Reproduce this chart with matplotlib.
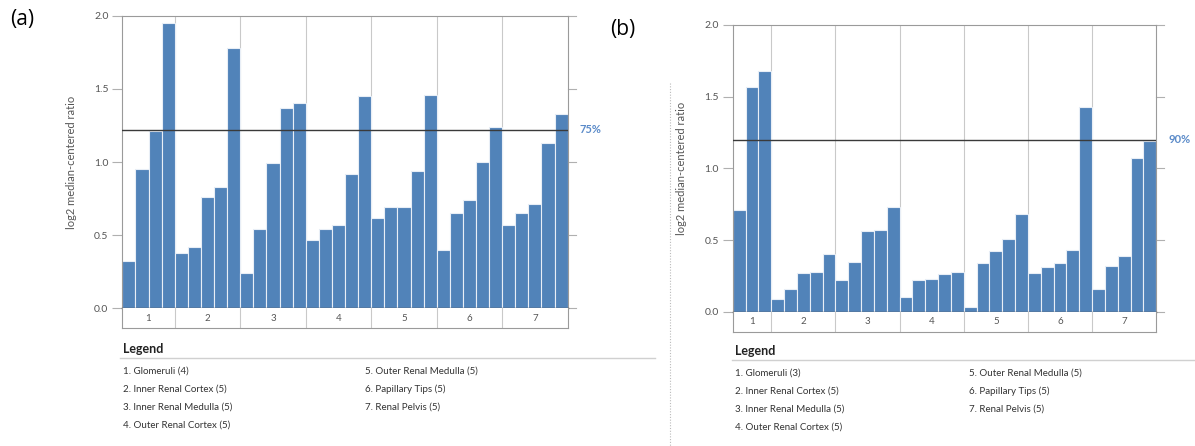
import matplotlib
matplotlib.use("Agg")
import matplotlib.pyplot as plt
import numpy as np

plt.rcParams['font.family'] = ['Lato', 'DejaVu Sans']

# ---------------- data ----------------
categories = ["Glomeruli", "Inner Renal Cortex", "Inner Renal Medulla",
              "Outer Renal Cortex", "Outer Renal Medulla", "Papillary Tips",
              "Renal Pelvis"]

# panel (a)
a_glomeruli = [0.32, 0.95, 1.21, 1.95]
a_inner_cortex = [0.38, 0.42, 0.76, 0.83, 1.78]
a_inner_medulla = [0.24, 0.54, 0.99, 1.37, 1.40]
a_outer_cortex = [0.47, 0.54, 0.57, 0.92, 1.45]
a_outer_medulla = [0.62, 0.69, 0.69, 0.94, 1.46]
a_papillary = [0.40, 0.65, 0.74, 1.00, 1.24]
a_pelvis = [0.57, 0.65, 0.71, 1.13, 1.33]
a_threshold = 1.22
a_threshold_label = "75%"

# panel (b)
b_glomeruli = [0.71, 1.57, 1.68]
b_inner_cortex = [0.09, 0.16, 0.27, 0.28, 0.40]
b_inner_medulla = [0.22, 0.35, 0.56, 0.57, 0.73]
b_outer_cortex = [0.10, 0.22, 0.23, 0.26, 0.28]
b_outer_medulla = [0.03, 0.34, 0.42, 0.51, 0.68]
b_papillary = [0.27, 0.31, 0.34, 0.43, 1.43]
b_pelvis = [0.16, 0.32, 0.39, 1.07, 1.19]
b_threshold = 1.20
b_threshold_label = "90%"

yticks = [0.0, 0.5, 1.0, 1.5, 2.0]
ylabel = "log2 median-centered ratio"

panel_a = [a_glomeruli, a_inner_cortex, a_inner_medulla, a_outer_cortex,
           a_outer_medulla, a_papillary, a_pelvis]
panel_b = [b_glomeruli, b_inner_cortex, b_inner_medulla, b_outer_cortex,
           b_outer_medulla, b_papillary, b_pelvis]

# ---------------- style ----------------
W, H = 1195, 446
BAR = "#5183b9"
GRID = "#c9c9c9"
FRAME = "#9a9a9a"
TXT = "#555555"
BLUE = "#5b8bc9"

fig = plt.figure(figsize=(W / 100, H / 100), dpi=100)


def fx(px):
    return px / W


def fy(py):
    return 1 - py / H


def panel(groups, thr, thr_label, left, right, top, bottom, strip_bottom,
          ylab_x, letter, letter_xy, legend_x, legend_y, col2_x, rule_x1):
    ax = fig.add_axes([fx(left), fy(bottom), fx(right - left), fy(top) - fy(bottom)])
    sax = fig.add_axes([fx(left), fy(strip_bottom), fx(right - left), fy(bottom) - fy(strip_bottom)])
    vals = [v for g in groups for v in g]
    n = len(vals)
    x = np.arange(n)
    ax.bar(x, vals, width=1.0, color=BAR, edgecolor="#e8eef6", linewidth=0.8, zorder=2)
    bounds = np.cumsum([len(g) for g in groups])[:-1] - 0.5
    for b in bounds:
        ax.axvline(b, color=GRID, lw=0.8, zorder=1)
        sax.axvline(b, color=GRID, lw=0.8, zorder=1)
    ax.axhline(thr, color="#3a3a3a", lw=1.0, zorder=3)
    ax.set_xlim(-0.5, n - 0.5)
    ax.set_ylim(0, 2.0)
    ax.set_yticks(yticks)
    ax.set_yticklabels([f"{t:.1f}" for t in yticks], fontsize=7.5, color=TXT)
    ax.tick_params(axis="y", which="both", left=True, right=False, labelleft=True,
                   direction="out", length=7, color="#b0b0b0", width=0.8, pad=3)
    ax.set_xticks([])
    # right-side ticks drawn outside
    for t in yticks:
        ax.plot([1.0, 1.0 + 8 / (right - left)], [t, t], transform=ax.get_yaxis_transform(),
                color="#b0b0b0", lw=0.8, clip_on=False)
    for s in ax.spines.values():
        s.set_color(FRAME)
        s.set_linewidth(0.8)
    ax.spines["bottom"].set_color("#444444")
    ax.spines["bottom"].set_linewidth(1.0)
    ax.text(1.0 + 12 / (right - left), thr, thr_label, transform=ax.get_yaxis_transform(),
            color=BLUE, fontsize=8, fontweight="bold", va="center", ha="left")
    ax.set_ylabel(ylabel, fontsize=8, color=TXT)
    ax.yaxis.set_label_coords((ylab_x - left) / (right - left), 0.5)

    # category strip
    sax.set_xlim(-0.5, n - 0.5)
    sax.set_ylim(0, 1)
    sax.set_xticks([])
    sax.set_yticks([])
    for s in sax.spines.values():
        s.set_color(FRAME)
        s.set_linewidth(0.8)
    sax.spines["top"].set_visible(False)
    starts = np.concatenate([[0], np.cumsum([len(g) for g in groups])])
    for i in range(len(groups)):
        c = (starts[i] + starts[i + 1] - 1) / 2
        sax.text(c, 0.5, str(i + 1), ha="center", va="center", fontsize=7, color=TXT)

    fig.text(fx(letter_xy[0]), fy(letter_xy[1]), letter, fontsize=15, ha="left", va="center",
             family=["Open Sans", "DejaVu Sans"])

    # legend
    fig.text(fx(legend_x), fy(legend_y), "Legend", fontsize=9, fontweight="bold",
             ha="left", va="center", color="#222222")
    fig.add_artist(plt.Line2D([fx(legend_x - 3), fx(rule_x1)], [fy(legend_y + 9)] * 2,
                              color="#d0d0d0", lw=1.0))
    for i, (name, g) in enumerate(zip(categories, groups)):
        col = 0 if i < 4 else 1
        row = i if i < 4 else i - 4
        xx = legend_x if col == 0 else col2_x
        yy = legend_y + 22 + row * 18
        fig.text(fx(xx), fy(yy), f"{i + 1}. {name} ({len(g)})", fontsize=7,
                 ha="left", va="center", color="#333333")


panel(panel_a, a_threshold, a_threshold_label, 122.3, 567.7, 15.7, 308.3, 328.3,
      77, "(a)", (10, 19), 123, 349, 365, 655)
panel(panel_b, b_threshold, b_threshold_label, 732.7, 1156.3, 25.0, 311.7, 331.7,
      687, "(b)", (610, 29), 735, 351, 969, 1195)

# dotted separator for panel (b)
fig.add_artist(plt.Line2D([fx(670), fx(670)], [fy(83), fy(446)], color="#bbbbbb",
                          lw=0.8, linestyle=(0, (1, 1.5))))

fig.savefig("out.png", dpi=100)
